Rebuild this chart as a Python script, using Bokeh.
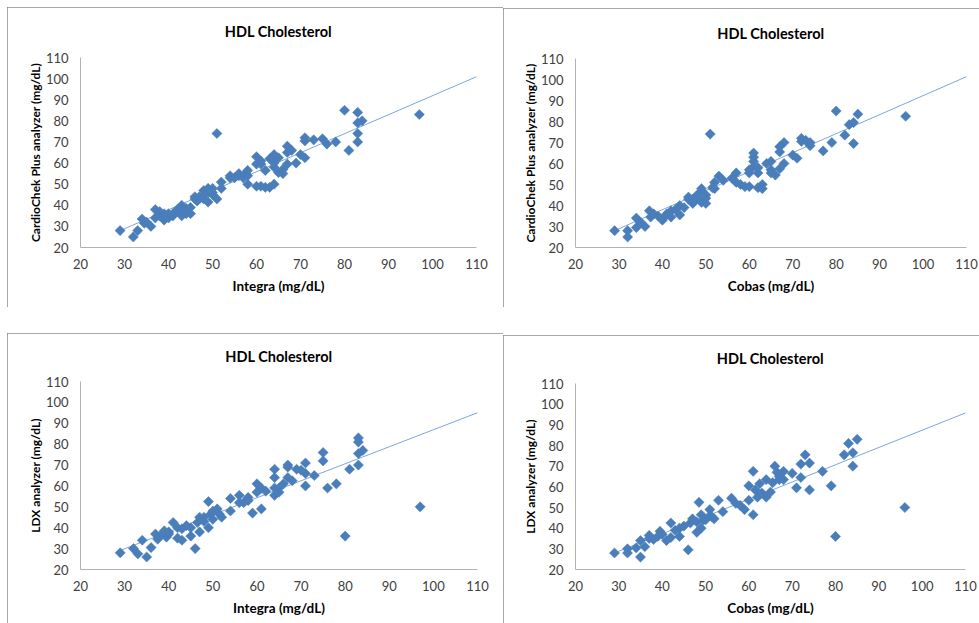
import numpy as np
from bokeh.plotting import figure
from bokeh.layouts import column, row
from bokeh.models import Range1d, FixedTicker
from bokeh.embed import file_html
from bokeh.resources import INLINE

title_text = "HDL Cholesterol"
axis_ticks = [20, 30, 40, 50, 60, 70, 80, 90, 100, 110]

# Panel 1: Integra vs CardioChek Plus
p1_x = [29, 32, 33, 34, 34.5, 35, 36, 37, 37, 38, 38, 39, 39, 40, 40, 41, 41, 42, 42, 43, 43, 43, 44, 44,
        45, 45, 46, 46, 46.5, 47, 47, 48, 48, 48, 49, 49, 49, 50, 50, 50, 51, 51, 52, 52, 54, 54, 55, 56,
        56, 57, 57.5, 58, 58, 58, 60, 60, 60, 61, 61, 61, 62, 62, 63, 63, 64, 64, 64, 64, 65, 65, 66, 66,
        67, 67, 67, 68, 69, 70, 71, 71, 71, 73, 75, 76, 78, 80, 81, 83, 83, 83, 83, 84, 97]
p1_y = [28, 25, 28, 33.5, 31.5, 32, 30, 38, 34, 37, 35, 33, 36, 36, 34, 35, 36, 37.5, 38, 40, 35, 37, 38.5, 36,
        39, 36, 44, 43, 42, 43, 44, 47, 45, 43, 41.5, 48, 46, 48, 45, 46, 43, 74, 51, 48, 54, 53, 53, 55,
        54, 53, 55, 56.5, 54, 50, 63, 59.5, 49, 59.5, 61, 49, 56.5, 48.5, 48.5, 62, 50, 64, 60, 58, 62.5, 55.5, 55, 57,
        59.5, 68, 65, 66, 60, 64, 72, 62.5, 70.5, 71, 71.5, 69, 70, 85, 66, 84, 79, 74, 70, 80, 83]

# Panel 2: Cobas vs CardioChek Plus
p2_x = [29, 32, 32, 34, 34, 35, 36, 37, 37.3, 38, 39, 40, 40.7, 41, 42, 42, 43, 44, 44, 45, 46, 46, 47, 47,
        48, 48, 49, 49, 49, 50, 50, 50, 51, 51.5, 52, 52, 53, 54, 56, 57, 57, 58, 59, 60, 60, 60, 61, 61,
        61, 61, 62, 62, 62, 63, 63, 64, 65, 65, 65, 66, 67, 67, 67, 68, 68, 70, 71, 72, 72, 73, 74, 74,
        77, 79, 80, 82, 83, 84, 84, 85, 96]
p2_y = [28, 28, 25, 34, 29.5, 32, 30, 37.5, 34.5, 36, 35, 33, 35, 36, 37.5, 34.5, 38, 40, 35.5, 39, 43, 44, 41, 43,
        43.5, 45, 46.5, 41.5, 48, 43.5, 41, 45, 74, 48.5, 51, 48, 54, 52, 53, 55.5, 51, 50, 49, 49, 55.5, 57, 65, 61,
        58.5, 63, 55.5, 48.5, 58, 50, 48, 60, 61, 55.5, 57, 54.5, 57.5, 65.5, 68, 70, 60, 64, 62.5, 72, 70.5, 71, 70, 68.5,
        66, 70, 85, 73.5, 78.5, 79.5, 69.5, 83.5, 82.5]

# Panel 3: Integra vs LDX
p3_x = [29, 32, 33, 34, 35, 36, 37, 37.5, 38, 39, 39.5, 40, 40, 41, 42, 42, 43, 43, 44, 45, 45, 46, 46.5, 47,
        47, 48, 48, 49, 49, 49.5, 50, 50, 51, 51.5, 52, 54, 54, 56, 56, 57, 58, 58, 59, 60, 60, 61, 61, 62,
        64, 64, 64, 64, 65, 65, 66, 67, 67, 67, 68, 69, 70, 71, 71, 71, 73, 75, 75, 76, 78, 80, 81, 83,
        83, 83, 83, 84, 97]
p3_y = [28, 30, 27.5, 34, 26, 30.5, 37, 34.5, 36, 38.5, 35.5, 38, 37, 42.5, 35, 40, 34, 39.5, 41, 36, 40, 30, 42.5, 38,
        45, 45, 43, 52.5, 40, 46.5, 48, 44, 49, 46.5, 45, 54, 48, 55.5, 52, 52, 53, 54.5, 47, 61, 57, 49, 59, 57.5,
        68, 64, 55.5, 59, 59, 57, 61, 69, 70, 64, 62.5, 68, 67.5, 71, 60, 66, 65, 76, 72, 59, 61, 36, 68, 83,
        81, 75.5, 70, 77, 50]

# Panel 4: Cobas vs LDX
p4_x = [29, 32, 32, 34, 35, 35, 36, 37, 37, 38, 39, 39.5, 40, 41, 42, 42, 43, 44, 44, 45, 46, 46.5, 47, 48,
        48, 48.5, 49, 49, 49.5, 50, 51, 51, 51.5, 52, 53, 54, 56, 57, 58, 59, 60, 60, 61, 61, 61.5, 62,
        62.5, 63, 64, 64, 65, 65.5, 66, 66.5, 67, 67, 68, 68, 70, 71, 72, 72, 73, 74, 74, 77, 79, 80, 82,
        83, 84, 84, 85, 96]
p4_y = [28, 30, 28, 30.5, 34, 26, 31, 36.5, 35, 34.5, 36, 38.5, 37, 34, 42.5, 35.5, 39, 36, 40, 41, 29.5, 42.5, 44.5, 38,
        43, 52.5, 40, 46.5, 44, 44, 49, 46, 45.5, 44.5, 53.5, 48, 54.5, 52, 51, 49, 53.5, 60.5, 67.5, 46.5, 58.5, 55,
        61.5, 57, 63.5, 55, 57.5, 62, 70, 67, 63.5, 65, 67.5, 63.5, 66.5, 59.5, 71, 64.5, 75.5, 71.5, 58.5, 67.5, 60.5, 36, 75.5,
        81, 76.5, 70, 83, 50]

# Linear trend lines
trend_slope = [0.90, 0.905, 0.814, 0.836]
trend_intercept = [1.9, 1.8, 5.5, 3.8]
trend_x_start = [29, 29, 29, 29]
trend_x_end = 110

x_labels = ["Integra (mg/dL)", "Cobas (mg/dL)", "Integra (mg/dL)", "Cobas (mg/dL)"]
y_labels = ["CardioChek Plus analyzer (mg/dL)", "CardioChek Plus analyzer (mg/dL)",
            "LDX analyzer (mg/dL)", "LDX analyzer (mg/dL)"]

FONT = "Lato"
MARKER = "#4a7ebb"
TREND = "#7fa6d9"


def make_panel(xs, ys, k, width, height, borders, margin, title_standoff):
    left, right, top, bottom = borders
    p = figure(width=width, height=height, output_backend="svg", toolbar_location=None,
               x_range=Range1d(20, 110), y_range=Range1d(20, 110),
               min_border_left=left, min_border_right=right,
               min_border_top=top, min_border_bottom=bottom,
               title=title_text)
    p.margin = margin
    p.background_fill_color = "white"
    p.border_fill_color = "white"
    p.outline_line_color = None
    p.grid.visible = False
    p.styles = {"outline": "1px solid #8a8a8a", "outline-offset": "-1px"}

    p.title.align = "center"
    p.title.vertical_align = "top"
    p.title.text_font = FONT
    p.title.text_font_size = "14.5px"
    p.title.text_font_style = "bold"
    p.title.text_color = "#000000"
    p.title.standoff = title_standoff

    for ax in (p.xaxis[0], p.yaxis[0]):
        ax.ticker = FixedTicker(ticks=axis_ticks)
        ax.axis_line_color = "#b3b3b3"
        ax.major_tick_line_color = None
        ax.minor_tick_line_color = None
        ax.major_tick_out = 0
        ax.major_tick_in = 0
        ax.minor_tick_out = 0
        ax.minor_tick_in = 0
        ax.major_label_text_font = FONT
        ax.major_label_text_font_size = "13px"
        ax.major_label_text_color = "#404040"
        ax.axis_label_text_font = FONT
        ax.axis_label_text_font_style = "bold"
        ax.axis_label_text_color = "#000000"
    p.xaxis.axis_label = x_labels[k]
    p.yaxis.axis_label = y_labels[k]
    p.xaxis.axis_label_text_font_size = "13.5px"
    p.yaxis.axis_label_text_font_size = "12px"
    p.xaxis.major_label_standoff = 11
    p.xaxis.axis_label_standoff = 6
    p.yaxis.major_label_standoff = 12
    p.yaxis.axis_label_standoff = 0

    x0 = trend_x_start[k]
    x1 = trend_x_end
    p.line([x0, x1], [trend_slope[k] * x0 + trend_intercept[k], trend_slope[k] * x1 + trend_intercept[k]],
           line_color=TREND, line_width=1)
    p.scatter(xs, ys, marker="square", angle=np.pi / 4, size=7.2,
              fill_color=MARKER, line_color=MARKER, line_width=0.5)
    return p


p1 = make_panel(p1_x, p1_y, 0, 496, 300, (73, 27, 50, 60), (7, 0, 0, 7), 31)
p2 = make_panel(p2_x, p2_y, 1, 476, 299, (72, 13, 49, 58), (8, 0, 0, 0), 30)
p3 = make_panel(p3_x, p3_y, 2, 496, 290, (73, 26, 48, 54), (26, 0, 0, 7), 29)
p4 = make_panel(p4_x, p4_y, 3, 476, 288, (72, 14, 48, 50), (28, 0, 0, 0), 29)

layout = column(row(p1, p2), row(p3, p4))
open("out.html", "w").write(file_html(layout, INLINE))
